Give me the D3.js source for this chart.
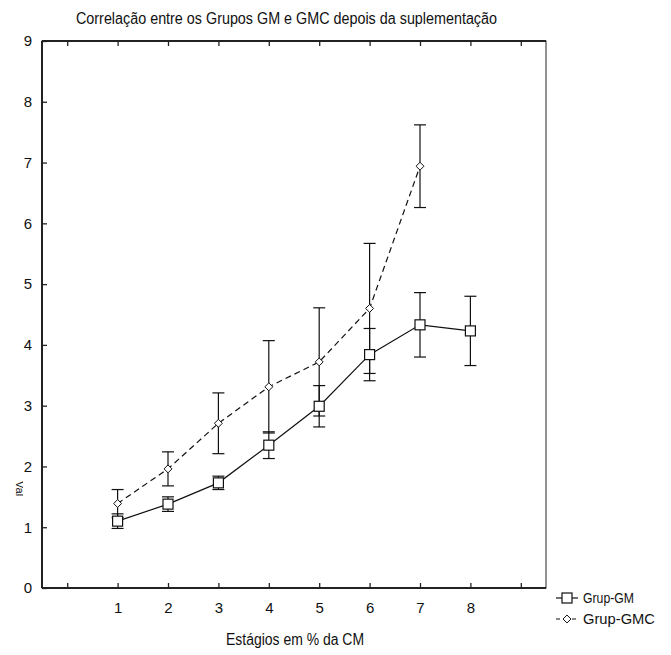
<!DOCTYPE html>
<html>
<head>
<meta charset="utf-8">
<script src="https://cdn.jsdelivr.net/npm/d3@7"></script>
<style>
  body { margin: 0; background: #fff; }
  text { font-family: "Liberation Sans", Arial, sans-serif; fill: #111; }
</style>
</head>
<body>
<div id="chart"></div>
<script>
// data
const stages = [1, 2, 3, 4, 5, 6, 7, 8];
const gmMean = [1.10, 1.38, 1.73, 2.35, 2.99, 3.84, 4.33, 4.23];
const gmErr  = [0.12, 0.12, 0.11, 0.22, 0.34, 0.43, 0.53, 0.57];
const gmcStages = [1, 2, 3, 4, 5, 6, 7];
const gmcMean = [1.39, 1.96, 2.71, 3.31, 3.72, 4.60, 6.94];
const gmcErr  = [0.23, 0.28, 0.50, 0.76, 0.89, 1.07, 0.68];
const yTicks = [0, 1, 2, 3, 4, 5, 6, 7, 8, 9];
const xTicks = [0, 1, 2, 3, 4, 5, 6, 7, 8, 9];
const xLabels = ["", "1", "2", "3", "4", "5", "6", "7", "8", ""];

const W = 671, H = 655;
const margin = { top: 41, right: 125, bottom: 67, left: 42 },
  width = W - margin.left - margin.right,
  height = H - margin.top - margin.bottom;

const svg = d3.select("#chart").append("svg")
  .attr("width", W).attr("height", H);

const g = svg.append("g")
  .attr("transform", "translate(" + margin.left + "," + margin.top + ")");

const x = d3.scaleLinear().domain([-0.5, 9.5]).range([0, width]);
const y = d3.scaleLinear().domain([0, 9]).range([height, 0]);

// frame
g.append("rect")
  .attr("width", width).attr("height", height)
  .attr("fill", "none").attr("stroke", "#222").attr("stroke-width", 1);
g.append("line").attr("x1", 0).attr("x2", width).attr("y1", height).attr("y2", height)
  .attr("stroke", "#222").attr("stroke-width", 2);
g.append("line").attr("x1", 0).attr("x2", 0).attr("y1", 0).attr("y2", height)
  .attr("stroke", "#222").attr("stroke-width", 2);
g.append("line").attr("x1", 0).attr("x2", width).attr("y1", 0).attr("y2", 0)
  .attr("stroke", "#222").attr("stroke-width", 2);

// axes, ticks pointing inward
const xAxis = g.append("g").attr("transform", `translate(0,${height})`)
  .call(d3.axisTop(x).tickValues(xTicks).tickSize(5).tickFormat(""));
xAxis.select(".domain").remove();
const xLab = g.append("g").attr("transform", `translate(0,${height})`)
  .call(d3.axisBottom(x).tickValues(xTicks).tickSize(0).tickPadding(14)
    .tickFormat((d, i) => xLabels[i]));
xLab.select(".domain").remove();
xLab.selectAll("text").style("font-size", "15px").attr("fill", "#111");

const topAxis = g.append("g")
  .call(d3.axisBottom(x).tickValues(xTicks).tickSize(5).tickFormat(""));
topAxis.select(".domain").remove();

const yAxis = g.append("g")
  .call(d3.axisRight(y).tickValues(yTicks).tickSize(5).tickFormat(""));
yAxis.select(".domain").remove();
const yLab = g.append("g")
  .call(d3.axisLeft(y).tickValues(yTicks).tickSize(0).tickPadding(10));
yLab.select(".domain").remove();
yLab.selectAll("text").style("font-size", "15px").attr("fill", "#111");

g.selectAll(".tick line").attr("stroke", "#222").attr("stroke-width", 1.3);

// title and axis labels (narrow face in the original, so squeeze to its width)
svg.append("text").attr("x", 76).attr("y", 24)
  .attr("textLength", 421).attr("lengthAdjust", "spacingAndGlyphs")
  .style("font-size", "16px").text("Correlação entre os Grupos GM e GMC depois da suplementação");
svg.append("text").attr("x", 226).attr("y", 645)
  .attr("textLength", 138).attr("lengthAdjust", "spacingAndGlyphs")
  .style("font-size", "16px").text("Estágios em % da CM");

// y title is cut off in the original, only a sliver shows
svg.append("clipPath").attr("id", "ylabclip").append("rect")
  .attr("x", 0).attr("y", 470).attr("width", 23).attr("height", 40);
svg.append("g").attr("clip-path", "url(#ylabclip)")
  .append("text")
  .attr("transform", "translate(16,481) rotate(90)")
  .style("font-size", "11px").text("Val");

// error bars
function errorBars(xs, means, errs) {
  const cap = 6;
  const eb = g.append("g").attr("stroke", "#111").attr("stroke-width", 1.2);
  xs.forEach((s, i) => {
    const cx = x(s), lo = y(means[i] - errs[i]), hi = y(means[i] + errs[i]);
    eb.append("line").attr("x1", cx).attr("x2", cx).attr("y1", lo).attr("y2", hi);
    eb.append("line").attr("x1", cx - cap).attr("x2", cx + cap).attr("y1", lo).attr("y2", lo);
    eb.append("line").attr("x1", cx - cap).attr("x2", cx + cap).attr("y1", hi).attr("y2", hi);
  });
}
errorBars(stages, gmMean, gmErr);
errorBars(gmcStages, gmcMean, gmcErr);

const line = d3.line().x(d => x(d[0])).y(d => y(d[1]));

g.append("path").datum(gmcStages.map((s, i) => [s, gmcMean[i]]))
  .attr("d", line).attr("fill", "none").attr("stroke", "#111")
  .attr("stroke-width", 1.2).attr("stroke-dasharray", "6,4");
g.append("path").datum(stages.map((s, i) => [s, gmMean[i]]))
  .attr("d", line).attr("fill", "none").attr("stroke", "#111").attr("stroke-width", 1.2);

// markers
const diamond = d3.symbol().type(d3.symbolDiamond2).size(40);
g.selectAll(".gmc").data(gmcStages).enter().append("path")
  .attr("transform", (d, i) => `translate(${x(d)},${y(gmcMean[i])})`)
  .attr("d", diamond).attr("fill", "#fff").attr("stroke", "#111").attr("stroke-width", 1);
g.selectAll(".gm").data(stages).enter().append("rect")
  .attr("x", d => x(d) - 5).attr("y", (d, i) => y(gmMean[i]) - 5)
  .attr("width", 10).attr("height", 10)
  .attr("fill", "#fff").attr("stroke", "#111").attr("stroke-width", 1.2);

// legend
const leg = svg.append("g").attr("transform", "translate(556,598)");
leg.append("line").attr("x1", 0).attr("x2", 22).attr("y1", 0).attr("y2", 0)
  .attr("stroke", "#111").attr("stroke-width", 1.2);
leg.append("rect").attr("x", 6).attr("y", -5).attr("width", 10).attr("height", 10)
  .attr("fill", "#fff").attr("stroke", "#111").attr("stroke-width", 1.2);
leg.append("text").attr("x", 27).attr("y", 5)
  .attr("textLength", 51).attr("lengthAdjust", "spacingAndGlyphs")
  .style("font-size", "15px").text("Grup-GM");
leg.append("line").attr("x1", 0).attr("x2", 22).attr("y1", 21).attr("y2", 21)
  .attr("stroke", "#111").attr("stroke-width", 1.2).attr("stroke-dasharray", "4,4");
leg.append("path").attr("transform", "translate(11,21)").attr("d", diamond)
  .attr("fill", "#fff").attr("stroke", "#111");
leg.append("text").attr("x", 27).attr("y", 26)
  .attr("textLength", 72).attr("lengthAdjust", "spacingAndGlyphs")
  .style("font-size", "15px").text("Grup-GMC");
</script>
</body>
</html>
